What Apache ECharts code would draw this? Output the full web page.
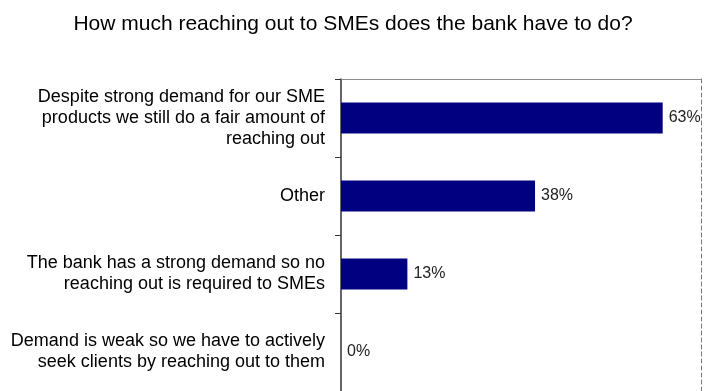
<!DOCTYPE html>
<html>
<head>
<meta charset="utf-8">
<script src="https://cdn.jsdelivr.net/npm/echarts@6/dist/echarts.min.js"></script>
<style>
  html, body { margin: 0; padding: 0; background: #fff; }
  #chart { width: 706px; height: 391px; }
</style>
</head>
<body>
<div id="chart"></div>
<script>
// Survey answers, top to bottom
const categories = [
  'Despite strong demand for our SME\nproducts we still do a fair amount of\nreaching out',
  'Other',
  'The bank has a strong demand so no\nreaching out is required to SMEs',
  'Demand is weak so we have to actively\nseek clients by reaching out to them'
];
// Share of respondents, percent
const shares = [63, 38, 13, 0];

const titleText = 'How much reaching out to SMEs does the bank have to do?';
const FONT = 'Arial, "Liberation Sans", sans-serif';

const chart = echarts.init(document.getElementById('chart'), null, { renderer: 'canvas' });
chart.setOption({
  animation: false,
  backgroundColor: '#ffffff',
  title: {
    text: titleText,
    left: 'center',
    top: 9,
    textStyle: { fontFamily: FONT, fontSize: 21, fontWeight: 'normal', color: '#000' }
  },
  grid: { left: 341, top: 79, width: 360, height: 315, containLabel: false },
  xAxis: [{
    type: 'value',
    position: 'top',
    min: 0,
    max: 70.5,
    axisLine: { show: true, lineStyle: { color: '#8c8c8c', width: 1 } },
    axisTick: { show: false },
    axisLabel: { show: false },
    splitLine: { show: false }
  }],
  yAxis: [{
    type: 'category',
    data: categories,
    inverse: true,
    axisLine: { show: true, lineStyle: { color: '#333', width: 1.5 } },
    axisTick: { show: true, length: 6, lineStyle: { color: '#333', width: 1 } },
    axisLabel: {
      margin: 16,
      align: 'right',
      fontFamily: FONT,
      fontSize: 18,
      lineHeight: 21,
      color: '#000'
    }
  }, {
    type: 'category',
    data: categories,
    inverse: true,
    position: 'right',
    axisLine: { show: true, lineStyle: { color: '#777', width: 1, type: [4, 3] } },
    axisTick: { show: false },
    axisLabel: { show: false }
  }],
  series: [{
    type: 'bar',
    data: shares,
    barCategoryGap: '60%',
    itemStyle: { color: '#000080' },
    label: {
      show: true,
      position: 'right',
      distance: 6,
      formatter: p => p.value + '%',
      fontFamily: FONT,
      fontSize: 16,
      color: '#222'
    }
  }]
});
</script>
</body>
</html>
